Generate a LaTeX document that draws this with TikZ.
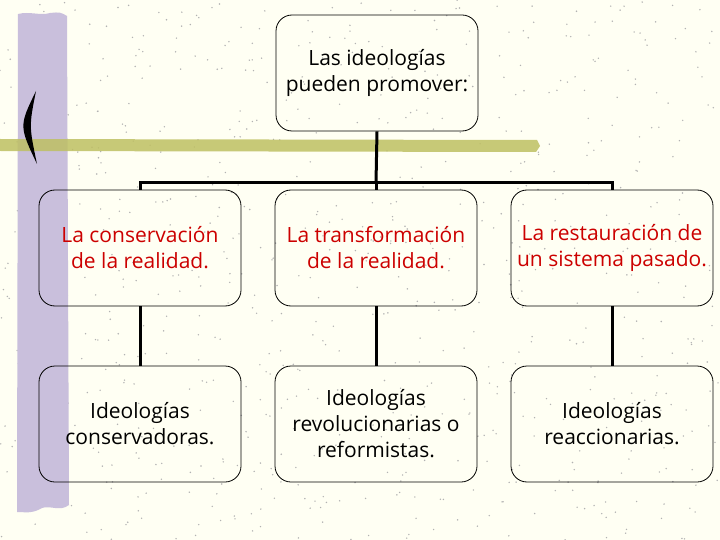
\documentclass[tikz,border=0pt]{standalone}
\usepackage{fontspec}
\setmainfont{Open Sans}
\usepackage{tikz}
\usetikzlibrary{positioning}

\definecolor{paper}{RGB}{255,255,243}
\definecolor{lavender}{RGB}{201,191,220}
\definecolor{olive}{RGB}{190,192,98}
\definecolor{redtext}{RGB}{204,0,0}

\begin{document}
\begin{tikzpicture}[x=1pt,y=-1pt,
		box/.style={draw, rounded corners=16pt, line width=0.8pt, minimum width=202pt,
			minimum height=116pt, align=center, font=\fontsize{21}{26}\selectfont},
		red box/.style={box, text=redtext},
		wire/.style={line width=3pt}]
		% background
		\fill[paper] (0,0) rectangle (720,540);
		\useasboundingbox (0,0) rectangle (720,540);
		\pgfmathsetseed{7}
		\foreach \i in {1,...,800}
			\fill[black!30] (rnd*720,rnd*540) circle (0.8);
		\fill[lavender] (18,14) .. controls (30,11) and (40,16) .. (50,13)
			.. controls (60,12) .. (67,16) -- (69,505)
			.. controls (60,512) and (50,505) .. (42,508)
			.. controls (32,514) and (25,512) .. (17,512) -- cycle;
		\fill[olive, opacity=0.85] (0,139) -- (537,140) -- (540,146) -- (536,152) -- (0,151) -- cycle;
		\fill (36,91) .. controls (19,126) .. (37,164) .. controls (29,126) .. (36,91);
		% nodes
		\draw
			(377,73) node [box] (top) {Las ideologías\\pueden promover:}
			(140,248) node [red box] (cons) {La conservación\\de la realidad.}
			(376,248) node [red box] (trans) {La transformación\\de la realidad.}
			(612,248) node [red box] (rest) {La restauración de\\un sistema pasado.}
			(140,424) node [box] (conserv) {Ideologías\\conservadoras.}
			(376,424) node [box] (revol) {Ideologías\\revolucionarias o\\reformistas.}
			(612,424) node [box] (reacc) {Ideologías\\reaccionarias.}
			;
		\coordinate (bus) at (376,183);
		\draw[wire] (top.south) -- (bus);
		\draw[wire] (cons.north) |- (bus) -| (rest.north);
		\draw[wire] (bus) -- (trans.north);
		\draw[wire]
			(cons) -- (conserv)
			(trans) -- (revol)
			(rest) -- (reacc)
			;
	\end{tikzpicture}
\end{document}
